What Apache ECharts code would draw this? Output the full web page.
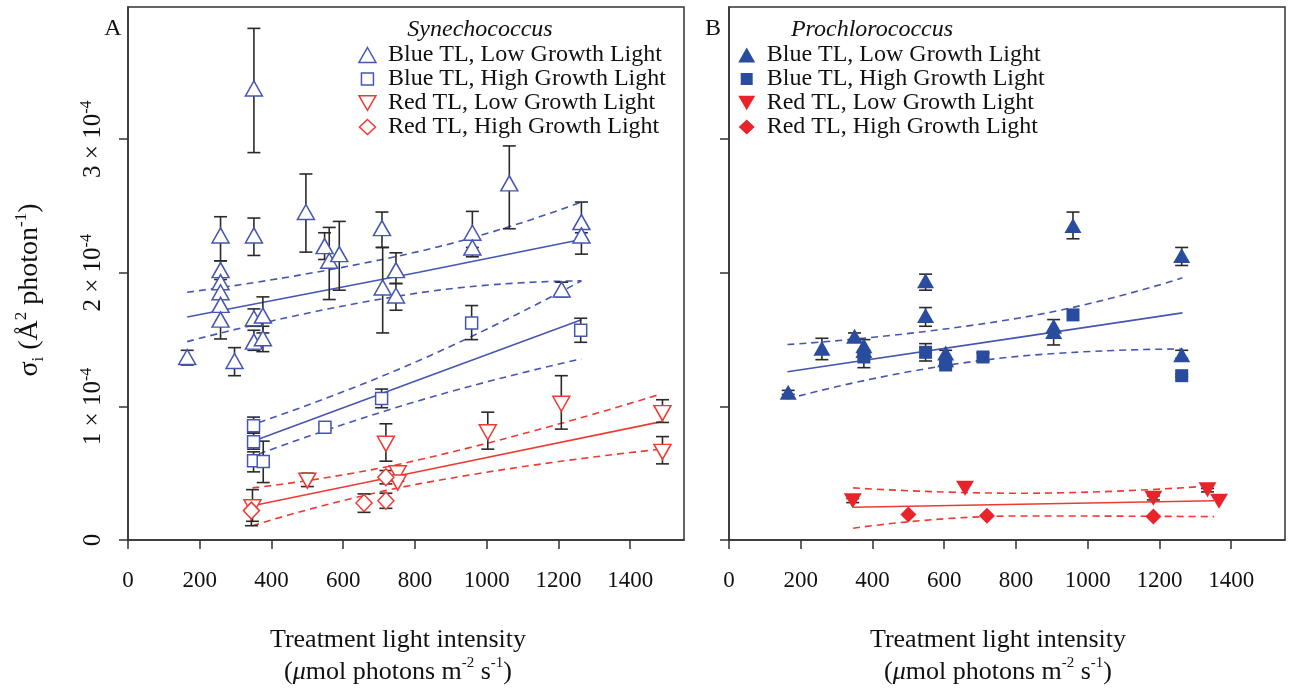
<!DOCTYPE html>
<html>
<head>
<meta charset="utf-8">
<script src="https://cdn.jsdelivr.net/npm/echarts@6/dist/echarts.min.js"></script>
<style>html,body{margin:0;padding:0;background:#fff}#c{width:1290px;height:688px}</style>
</head>
<body>
<div id="c"></div>
<script>
// ---- DATA (sigma_i values in units of 1e-4 A^2 photon^-1) ----
// each point: [treatment light, sigma, errLow, errHigh]
const xTickValues = [0, 200, 400, 600, 800, 1000, 1200, 1400];
const yTickValues = [0, 1, 2, 3];
const groupNames = ['Blue TL, Low Growth Light', 'Blue TL, High Growth Light', 'Red TL, Low Growth Light', 'Red TL, High Growth Light'];

const synBlueLow = [
  [165, 1.37, 1.31, 1.42], [258, 2.28, 2.09, 2.42], [258, 2.02, 1.95, 2.09], [258, 1.93, null, null],
  [258, 1.855, null, null], [258, 1.76, null, null], [258, 1.65, 1.505, 1.72], [297, 1.34, 1.23, 1.44],
  [351, 3.38, 2.90, 3.83], [351, 2.28, 2.13, 2.41], [351, 1.66, 1.60, 1.73], [351, 1.485, 1.42, 1.57],
  [376, 1.68, 1.55, 1.82], [376, 1.51, 1.41, 1.60], [496, 2.455, 2.155, 2.74], [548, 2.20, 2.10, 2.30],
  [561, 2.09, 1.80, 2.34], [589, 2.14, 1.87, 2.385], [708, 2.335, 2.19, 2.455], [710, 1.89, 1.55, 2.19],
  [747, 2.02, 1.92, 2.15], [747, 1.83, 1.72, 1.92], [960, 2.30, 2.19, 2.46], [960, 2.19, 2.12, 2.27],
  [1063, 2.67, 2.33, 2.95], [1209, 1.875, 1.82, 1.93], [1264, 2.38, 2.30, 2.53], [1264, 2.28, 2.14, 2.36]
];
const synBlueHigh = [
  [350, 0.856, 0.80, 0.92], [350, 0.736, 0.68, 0.80], [350, 0.594, 0.51, 0.66], [377, 0.587, 0.43, 0.74],
  [549, 0.844, 0.82, 0.87], [707, 1.06, 0.99, 1.13], [958, 1.625, 1.50, 1.755], [1262, 1.57, 1.48, 1.66]
];
const synRedLow = [
  [347, 0.245, 0.14, 0.377], [500, 0.444, 0.40, 0.50], [719, 0.72, 0.59, 0.87], [752, 0.50, 0.44, 0.54],
  [752, 0.43, null, null], [1003, 0.807, 0.68, 0.957], [1208, 1.02, 0.83, 1.23], [1490, 0.95, 0.88, 1.05],
  [1490, 0.66, 0.57, 0.774]
];
const synRedHigh = [
  [344, 0.22, 0.107, 0.30], [658, 0.277, 0.207, 0.345], [719, 0.294, 0.237, 0.35], [719, 0.47, 0.42, 0.52]
];
const proBlueLow = [
  [165, 1.106, 1.09, 1.12], [259, 1.436, 1.35, 1.51], [350, 1.526, 1.50, 1.55], [376, 1.455, 1.40, 1.50],
  [376, 1.418, null, null], [548, 1.94, 1.87, 1.99], [548, 1.68, 1.60, 1.74], [604, 1.40, 1.36, 1.42],
  [604, 1.35, null, null], [905, 1.60, 1.46, 1.65], [905, 1.56, null, null], [959, 2.355, 2.255, 2.455],
  [1262, 2.13, 2.055, 2.19], [1262, 1.386, 1.36, 1.42]
];
const proBlueHigh = [
  [376, 1.37, 1.29, 1.42], [548, 1.405, 1.34, 1.47], [604, 1.31, 1.29, 1.33], [708, 1.37, 1.34, 1.40],
  [959, 1.685, null, null], [1262, 1.23, 1.22, 1.24]
];
const proRedLow = [
  [345, 0.294, 0.28, 0.31], [658, 0.387, null, null], [1183, 0.312, 0.30, 0.33], [1334, 0.377, 0.36, 0.385],
  [1366, 0.29, null, null]
];
const proRedHigh = [
  [500, 0.19, null, null], [719, 0.182, null, null], [1183, 0.175, null, null]
];
// regression fits: [x, fit, lower95, upper95]
const synBlueLowFit = [[165, 1.67, 1.485, 1.855], [811, 2.005, 1.85, 2.16], [1264, 2.25, 1.94, 2.53]];
const synBlueHighFit = [[365, 0.757, 0.644, 0.88], [811, 1.199, 1.043, 1.343], [1264, 1.648, 1.356, 1.94]];
const synRedFit = [[347, 0.257, 0.107, 0.39], [811, 0.513, 0.42, 0.60], [1487, 0.886, 0.68, 1.094]];
const proBlueFit = [[163, 1.26, 1.056, 1.463], [812, 1.519, 1.376, 1.663], [1264, 1.70, 1.43, 1.963]];
const proRedFit = [[346, 0.245, 0.088, 0.39], [812, 0.268, 0.18, 0.35], [1352, 0.294, 0.175, 0.407]];

// ---- STYLE ----
const FONT = '"Liberation Serif", "Times New Roman", serif';
const BLUE_A = '#4656b2', RED_A = '#ee3a33', BLUE_B = '#2a4c9e', RED_B = '#e8242a', ERR = '#2a2a2a', AX = '#333';
const DOWN = 'path://M0,0L20,0L10,17.32Z';
const LEG_SQUARE = 'path://M0,0M17,15M2.5,1.5L14.5,1.5L14.5,13.5L2.5,13.5Z';
const LEG_DIAMOND = 'path://M8.5,0L16.5,7.5L8.5,15L0.5,7.5Z';

const chart = echarts.init(document.getElementById('c'), null, {renderer: 'canvas'});

function errSeries(data, gi) {
  return {
    type: 'custom', xAxisIndex: gi, yAxisIndex: gi, z: 3, silent: true,
    data: data.filter(d => d[2] != null),
    dimensions: ['x', 'y', 'lo', 'hi'],
    encode: {x: 0, y: 1},
    renderItem: function (params, api) {
      const x = api.value(0), lo = api.value(2), hi = api.value(3);
      const p1 = api.coord([x, lo]), p2 = api.coord([x, hi]);
      const w = 6.5, st = {stroke: ERR, lineWidth: 1.6};
      return {type: 'group', children: [
        {type: 'line', shape: {x1: p1[0], y1: p1[1], x2: p2[0], y2: p2[1]}, style: st},
        {type: 'line', shape: {x1: p1[0] - w, y1: p1[1], x2: p1[0] + w, y2: p1[1]}, style: st},
        {type: 'line', shape: {x1: p2[0] - w, y1: p2[1], x2: p2[0] + w, y2: p2[1]}, style: st}
      ]};
    }
  };
}
function scatterSeries(name, data, gi, symbol, size, fill, stroke, bw) {
  return {
    type: 'scatter', name: name, xAxisIndex: gi, yAxisIndex: gi, z: 4, silent: true,
    symbol: symbol, symbolSize: size,
    itemStyle: {color: fill, borderColor: stroke, borderWidth: bw, opacity: 1},
    data: data.map(d => [d[0], d[1]])
  };
}
function fitSeries(fit, gi, color) {
  const mk = (idx, dashed) => ({
    type: 'line', xAxisIndex: gi, yAxisIndex: gi, z: 2, silent: true, symbol: 'none', smooth: !dashed ? false : 0.5,
    lineStyle: {color: color, width: 1.6, type: dashed ? [7, 5] : 'solid'},
    data: fit.map(d => [d[0], d[idx]])
  });
  return [mk(1, false), mk(2, true), mk(3, true)];
}
function xAx(gi) {
  return {
    type: 'value', gridIndex: gi, min: 0, max: 1550, interval: 200,
    axisLine: {show: true, onZero: false, lineStyle: {color: AX, width: 1.5}},
    axisTick: {show: true, length: 9, customValues: xTickValues, lineStyle: {color: AX, width: 1.5}},
    axisLabel: {customValues: xTickValues, margin: 29, fontFamily: FONT, fontSize: 23, color: '#111', formatter: v => String(v)},
    splitLine: {show: false}
  };
}
function yAx(gi, showLabel) {
  return {
    type: 'value', gridIndex: gi, min: 0, max: 3.99, interval: 1,
    axisLine: {show: true, onZero: false, lineStyle: {color: AX, width: 1.5}},
    axisTick: {show: true, length: 9, customValues: yTickValues, lineStyle: {color: AX, width: 1.5}},
    axisLabel: {
      show: showLabel, customValues: yTickValues, rotate: 90, margin: 21,
      fontFamily: FONT, fontSize: 25, color: '#111', lineHeight: 28,
      formatter: v => v === 0 ? '0' : v + ' \u00d7 10{sup|-4}',
      rich: {sup: {fontFamily: FONT, fontSize: 16, lineHeight: 16, verticalAlign: 'top', color: '#111'}}
    },
    splitLine: {show: false}
  };
}
function legend(left, padLeft, items) {
  return {
    orient: 'vertical', left: left, top: 43, padding: 0, itemGap: 0,
    itemWidth: 17, itemHeight: 15, symbolRotate: 0, selectedMode: false,
    textStyle: {fontFamily: FONT, fontSize: 24, color: '#111', lineHeight: 23.5, padding: [0, 0, 0, padLeft]},
    data: items
  };
}
const supRich = {fontFamily: FONT, fontSize: 15, lineHeight: 15, verticalAlign: 'top', fill: '#111'};
function xTitle(x) {
  return {type: 'text', x: x, y: 656, style: {
    text: 'Treatment light intensity\n({it|\u03bc}mol photons m{sup|-2} s{sup|-1})', fontFamily: FONT, fontSize: 26, lineHeight: 32, fill: '#111',
    align: 'center', verticalAlign: 'middle', textAlign: 'center', textVerticalAlign: 'middle',
    rich: {it: {fontFamily: FONT, fontStyle: 'italic', fontSize: 26, lineHeight: 32, fill: '#111'}, sup: supRich}
  }};
}

const series = [].concat(
  fitSeries(synBlueLowFit, 0, BLUE_A), fitSeries(synBlueHighFit, 0, BLUE_A), fitSeries(synRedFit, 0, RED_A),
  fitSeries(proBlueFit, 1, BLUE_A), fitSeries(proRedFit, 1, RED_A),
  [errSeries(synBlueLow, 0), errSeries(synBlueHigh, 0), errSeries(synRedLow, 0), errSeries(synRedHigh, 0),
   errSeries(proBlueLow, 1), errSeries(proBlueHigh, 1), errSeries(proRedLow, 1), errSeries(proRedHigh, 1)],
  [scatterSeries(groupNames[0], synBlueLow, 0, 'triangle', [17, 15], '#fff', BLUE_A, 1.5),
   scatterSeries(groupNames[1], synBlueHigh, 0, 'rect', 12, '#fff', BLUE_A, 1.5),
   scatterSeries(groupNames[2], synRedLow, 0, DOWN, [17, 15], '#fff', RED_A, 1.5),
   scatterSeries(groupNames[3], synRedHigh, 0, 'diamond', [16, 17], '#fff', RED_A, 1.5),
   scatterSeries(groupNames[0], proBlueLow, 1, 'triangle', [17, 15], BLUE_B, BLUE_B, 0),
   scatterSeries(groupNames[1], proBlueHigh, 1, 'rect', 13, BLUE_B, BLUE_B, 0),
   scatterSeries(groupNames[2], proRedLow, 1, DOWN, [18, 15], RED_B, RED_B, 0),
   scatterSeries(groupNames[3], proRedHigh, 1, 'diamond', 16, RED_B, RED_B, 0)]
);

const option = {
  animation: false,
  backgroundColor: '#fff',
  grid: [
    {left: 128, top: 7, width: 556, height: 533, show: true, borderColor: AX, borderWidth: 1.5, backgroundColor: 'transparent'},
    {left: 729, top: 7, width: 556, height: 533, show: true, borderColor: AX, borderWidth: 1.5, backgroundColor: 'transparent'}
  ],
  xAxis: [xAx(0), xAx(1)],
  yAxis: [yAx(0, true), yAx(1, false)],
  legend: [
    legend(358.2, 7, [
      {name: groupNames[0], icon: 'triangle', itemStyle: {color: '#fff', borderColor: BLUE_A, borderWidth: 1.5}},
      {name: groupNames[1], icon: LEG_SQUARE, itemStyle: {color: '#fff', borderColor: BLUE_A, borderWidth: 1.5}},
      {name: groupNames[2], icon: DOWN, itemStyle: {color: '#fff', borderColor: RED_A, borderWidth: 1.5}},
      {name: groupNames[3], icon: LEG_DIAMOND, itemStyle: {color: '#fff', borderColor: RED_A, borderWidth: 1.5}}
    ]),
    legend(738.2, 6.5, [
      {name: groupNames[0], icon: 'triangle', itemStyle: {color: BLUE_B, borderColor: BLUE_B, borderWidth: 0}},
      {name: groupNames[1], icon: LEG_SQUARE, itemStyle: {color: BLUE_B, borderColor: BLUE_B, borderWidth: 0}},
      {name: groupNames[2], icon: DOWN, itemStyle: {color: RED_B, borderColor: RED_B, borderWidth: 0}},
      {name: groupNames[3], icon: LEG_DIAMOND, itemStyle: {color: RED_B, borderColor: RED_B, borderWidth: 0}}
    ])
  ],
  graphic: [
    {type: 'text', x: 113, y: 29, style: {text: 'A', fontFamily: FONT, fontSize: 24, fill: '#111', align: 'center', verticalAlign: 'middle', textAlign: 'center', textVerticalAlign: 'middle'}},
    {type: 'text', x: 713, y: 29, style: {text: 'B', fontFamily: FONT, fontSize: 24, fill: '#111', align: 'center', verticalAlign: 'middle', textAlign: 'center', textVerticalAlign: 'middle'}},
    {type: 'text', x: 480, y: 30, style: {text: 'Synechococcus', fontFamily: FONT, fontStyle: 'italic', fontSize: 24, fill: '#111', align: 'center', verticalAlign: 'middle', textAlign: 'center', textVerticalAlign: 'middle'}},
    {type: 'text', x: 872, y: 30, style: {text: 'Prochlorococcus', fontFamily: FONT, fontStyle: 'italic', fontSize: 24, fill: '#111', align: 'center', verticalAlign: 'middle', textAlign: 'center', textVerticalAlign: 'middle'}},
    {type: 'text', x: 30, y: 290, rotation: Math.PI / 2, style: {
      text: '\u03c3{sub|i} (\u00c5{sup|2} photon{sup|-1})', fontFamily: FONT, fontSize: 28, lineHeight: 34, fill: '#111',
      align: 'center', verticalAlign: 'middle', textAlign: 'center', textVerticalAlign: 'middle',
      rich: {sub: {fontFamily: FONT, fontSize: 17, lineHeight: 17, verticalAlign: 'bottom', fill: '#111'}, sup: {fontFamily: FONT, fontSize: 17, lineHeight: 17, verticalAlign: 'top', fill: '#111'}}
    }},
    xTitle(398),
    xTitle(998)
  ],
  series: series
};
chart.setOption(option);
</script>
</body>
</html>
